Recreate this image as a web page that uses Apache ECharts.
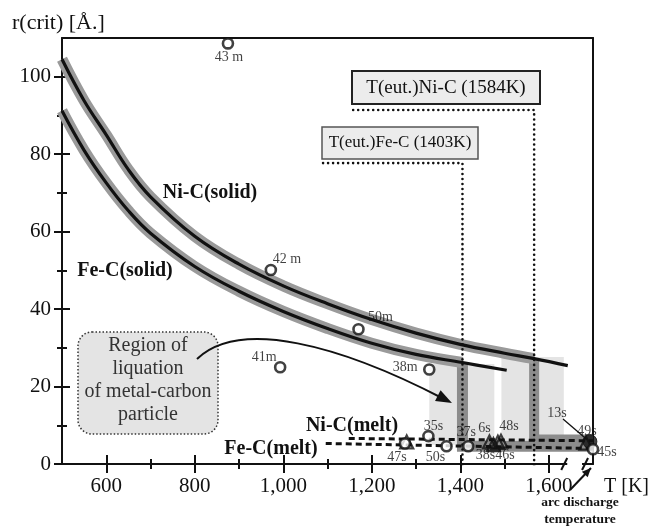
<!DOCTYPE html>
<html><head><meta charset="utf-8">
<script src="https://cdn.jsdelivr.net/npm/echarts@6/dist/echarts.min.js"></script>
<style>html,body{margin:0;padding:0;background:#fff}#c{width:652px;height:531px}</style>
</head><body><div id="c"></div>
<script>
// ---- axis ticks ----
const xTickLabels = [600, 800, 1000, 1200, 1400, 1600];
const xMinorTicks = [700, 900, 1100, 1300, 1500];
const yTickLabels = [0, 20, 40, 60, 80, 100];
const yMinorTicks = [10, 30, 50, 70, 90];

// ---- critical radius curves (solid phase) ----
const niSolidT = [500, 550, 600, 650, 700, 800, 900, 1000, 1100, 1200, 1300, 1400, 1500, 1567, 1643];
const niSolidR = [104.5, 93.8, 85.0, 76.0, 69.0, 58.8, 51.6, 46.0, 41.4, 37.3, 33.8, 30.9, 28.6, 27.2, 25.4];
const feSolidT = [500, 550, 600, 650, 700, 800, 900, 1000, 1100, 1200, 1300, 1405, 1505];
const feSolidR = [91.2, 81.0, 72.6, 65.4, 59.6, 51.0, 44.6, 39.4, 35.0, 31.2, 28.3, 26.2, 24.2];
const niBandEnd = 14;   // grey band drawn up to the Ni-C eutectic
const feBandEnd = 12;   // grey band drawn up to the Fe-C eutectic

// ---- melt lines ----
const niMeltT = [1148, 1700];
const niMeltR = [6.6, 6.0];
const feMeltT = [1096, 1700];
const feMeltR = [5.3, 4.0];

// ---- eutectic markers ----
const eutLabels = ['T(eut.)Fe-C (1403K)', 'T(eut.)Ni-C (1584K)'];
const eutLineT = [1405, 1567];
const eutLineTop = [77.7, 91.4];
const eutLineStartT = [1090, 1158];

// ---- liquation regions [T0, T1, R0, R1] ----
const liqT0 = [1330, 1493];
const liqT1 = [1477, 1634];
const liqR0 = [5.0, 6.0];
const liqR1 = [25.8, 27.6];

// ---- measured particles ----
const mNames = ['43 m', '42 m', '50m', '41m', '38m'];
const mT = [875, 972, 1170, 993, 1330];
const mR = [108.6, 50.1, 34.8, 25.0, 24.4];
const sCircleNames = ['47s', '35s', '50s', '37s', '45s'];
const sCircleT = [1275, 1328, 1369, 1418, 1700];
const sCircleR = [5.3, 7.2, 4.6, 4.6, 3.8];
const sTriNames = ['', '6s', '38s', '46s', '48s', '13s'];
const sTriT = [1279, 1466, 1475, 1485, 1492, 1684];
const sTriR = [5.7, 5.7, 5.0, 5.6, 5.9, 5.4];
const sFilledNames = ['49s'];
const sFilledT = [1693];
const sFilledR = [5.8];

const breakT0 = 1635, breakT1 = 1682;

const labelOffset = {
  '43 m': [1, 14], '42 m': [16, -11], '50m': [22, -12], '41m': [-16, -10], '38m': [-24, -2],
  '35s': [5, -10], '47s': [-8, 14], '50s': [-11, 11], '37s': [-2, -14],
  '6s': [-5, -14], '38s': [-8, 11], '46s': [7, 13], '48s': [8, -15],
  '13s': [-29, -30], '49s': [-3, -10], '45s': [14, 3]
};

const FONT = '"Liberation Serif","Times New Roman",serif';
const INK = '#111';
const zip = (a, b) => a.map((v, i) => [v, b[i]]);

function pts(names, T, R) {
  return names.map((n, i) => ({
    name: n, value: [T[i], R[i]],
    label: { show: !!n, offset: labelOffset[n] || [0, 0] }
  }));
}

const chart = echarts.init(document.getElementById('c'), null, { renderer: 'canvas' });

const tickStyle = { color: INK, width: 2 };
const baseX = { type: 'value', min: 500, max: 1700, position: 'bottom', gridIndex: 0,
  splitLine: { show: false }, axisLine: { show: false, onZero: false },
  axisLabel: { show: false }, axisTick: { show: false } };
const baseY = { type: 'value', min: 0, max: 110, position: 'left', gridIndex: 0,
  splitLine: { show: false }, axisLine: { show: false, onZero: false },
  axisLabel: { show: false }, axisTick: { show: false } };
const lblStyle = { fontFamily: FONT, fontSize: 21, color: INK };

const labelCommon = { position: 'inside', fontFamily: FONT, fontSize: 14, color: INK, formatter: '{b}' };
const curveStyle = { type: 'line', symbol: 'none', smooth: 0.4, silent: true };

const option = {
  animation: false,
  backgroundColor: '#fff',
  grid: { left: 62, right: 59, top: 38, bottom: 67, outerBoundsMode: 'none', containLabel: false },
  xAxis: [
    Object.assign({}, baseX, {
      axisLine: { show: true, onZero: false, lineStyle: { color: INK, width: 2 } },
      axisTick: { show: true, customValues: xTickLabels, length: 9, inside: false, lineStyle: tickStyle },
      axisLabel: Object.assign({ show: true, customValues: xTickLabels, margin: 12 }, lblStyle)
    }),
    Object.assign({}, baseX, { axisTick: { show: true, customValues: xTickLabels, length: 9, inside: true, lineStyle: tickStyle } }),
    Object.assign({}, baseX, { axisTick: { show: true, customValues: xMinorTicks, length: 5, inside: false, lineStyle: tickStyle } }),
    Object.assign({}, baseX, { axisTick: { show: true, customValues: xMinorTicks, length: 5, inside: true, lineStyle: tickStyle } }),
    Object.assign({}, baseX, { position: 'top', axisLine: { show: true, onZero: false, lineStyle: { color: INK, width: 2 } } })
  ],
  yAxis: [
    Object.assign({}, baseY, {
      axisLine: { show: true, onZero: false, lineStyle: { color: INK, width: 2 } },
      axisTick: { show: true, customValues: yTickLabels, length: 8, inside: false, lineStyle: tickStyle },
      axisLabel: Object.assign({ show: true, customValues: yTickLabels, margin: 11 }, lblStyle)
    }),
    Object.assign({}, baseY, { axisTick: { show: true, customValues: yTickLabels, length: 8, inside: true, lineStyle: tickStyle } }),
    Object.assign({}, baseY, { axisTick: { show: true, customValues: yMinorTicks, length: 5, inside: false, lineStyle: tickStyle } }),
    Object.assign({}, baseY, { axisTick: { show: true, customValues: yMinorTicks, length: 5, inside: true, lineStyle: tickStyle } }),
    Object.assign({}, baseY, { position: 'right', axisLine: { show: true, onZero: false, lineStyle: { color: INK, width: 2 } } })
  ],
  series: [
    { // liquation regions (light grey)
      type: 'custom', z: 1, silent: true,
      data: liqT0.map((t, i) => [t, liqT1[i], liqR0[i], liqR1[i]]),
      encode: { x: [0, 1], y: [2, 3] },
      renderItem: (params, api) => {
        const p0 = api.coord([api.value(0), api.value(3)]);
        const p1 = api.coord([api.value(1), api.value(2)]);
        return { type: 'rect', shape: { x: p0[0], y: p0[1], width: p1[0] - p0[0], height: p1[1] - p0[1] },
          style: { fill: '#e4e4e4' } };
      }
    },
    { type: 'line', z: 2, symbol: 'none', silent: true,
      data: [[eutLineT[1], niSolidR[niBandEnd - 1]], [eutLineT[1], niMeltR[1] + 0.3], [1700, niMeltR[1] + 0.3]],
      lineStyle: { color: '#8c8c8c', width: 10, join: 'miter', cap: 'butt' } },
    { type: 'line', z: 2, symbol: 'none', silent: true,
      data: [[eutLineT[0], feSolidR[feBandEnd - 1]], [eutLineT[0], 4.6], [1700, 4.6]],
      lineStyle: { color: '#8c8c8c', width: 11, join: 'miter', cap: 'butt' } },
    Object.assign({ z: 3, data: zip(niSolidT, niSolidR).slice(0, niBandEnd),
      lineStyle: { color: '#9a9a9a', width: 11, cap: 'butt' } }, curveStyle),
    Object.assign({ z: 3, data: zip(feSolidT, feSolidR).slice(0, feBandEnd),
      lineStyle: { color: '#9a9a9a', width: 11, cap: 'butt' } }, curveStyle),
    Object.assign({ z: 4, data: zip(niSolidT, niSolidR), lineStyle: { color: INK, width: 3.2 } }, curveStyle),
    Object.assign({ z: 4, data: zip(feSolidT, feSolidR), lineStyle: { color: INK, width: 3.2 } }, curveStyle),
    // eutectic dotted lines
    ...eutLineT.map((t, i) => ({
      type: 'line', z: 5, symbol: 'none', silent: true,
      data: [[eutLineStartT[i], eutLineTop[i]], [t, eutLineTop[i]], [t, -1.5]],
      lineStyle: { color: INK, width: 2.6, type: [0.01, 5], cap: 'round' }
    })),
    // melt lines
    { type: 'line', z: 5, symbol: 'none', silent: true, data: zip(niMeltT, niMeltR),
      lineStyle: { color: INK, width: 3, type: [6, 4] } },
    { type: 'line', z: 5, symbol: 'none', silent: true, data: zip(feMeltT, feMeltR),
      lineStyle: { color: INK, width: 3, type: [6, 4] } },
    // filled blob
    { type: 'scatter', z: 6, symbol: 'circle', symbolSize: 14,
      itemStyle: { color: INK, borderColor: INK, borderWidth: 1 },
      label: labelCommon, data: pts(sFilledNames, sFilledT, sFilledR) },
    // triangles
    { type: 'scatter', z: 7, symbol: 'triangle', symbolSize: 13,
      itemStyle: { color: 'rgba(255,255,255,0)', borderColor: INK, borderWidth: 2.2 },
      label: labelCommon, data: pts(sTriNames, sTriT, sTriR) },
    // circles
    { type: 'scatter', z: 8, symbol: 'circle', symbolSize: 10,
      itemStyle: { color: '#fff', borderColor: INK, borderWidth: 2.6 },
      label: labelCommon, data: pts(sCircleNames, sCircleT, sCircleR) },
    { type: 'scatter', z: 8, symbol: 'circle', symbolSize: 10,
      itemStyle: { color: '#fff', borderColor: INK, borderWidth: 2.6 },
      label: labelCommon, data: pts(mNames, mT, mR) }
  ]
};
chart.setOption(option);

// ---- annotations ----
const px = (t, r) => chart.convertToPixel({ xAxisIndex: 0, yAxisIndex: 0 }, [t, r]);
function arrowHead(tip, from, len, hw) {
  const dx = tip[0] - from[0], dy = tip[1] - from[1];
  const d = Math.hypot(dx, dy); const ux = dx / d, uy = dy / d;
  const bx = tip[0] - ux * len, by = tip[1] - uy * len;
  return [tip, [bx - uy * hw, by + ux * hw], [bx + uy * hw, by - ux * hw]];
}
const axisY = px(500, 0)[1];
const b0 = px(breakT0, 0)[0], b1 = px(breakT1, 0)[0];

const textStyle = (t, x, y, size, extra) => ({
  type: 'text', x: x, y: y, z: 50,
  style: Object.assign({ text: t, fontFamily: FONT, fontSize: size, fill: INK, align: 'center', verticalAlign: 'middle' }, extra || {})
});

const regArrowEnd = [452, 403], regArrowCp2 = [340, 345];
const blob = px(sFilledT[0], sFilledR[0]);
const arcTip = [px(1700, 0)[0] - 2, axisY + 4];
const arcFrom = [570, 490];

const graphic = [
  // axis break
  { type: 'rect', z: 40, shape: { x: b0 + 3, y: axisY - 3, width: b1 - b0 - 6, height: 6 }, style: { fill: '#fff' } },
  { type: 'line', z: 41, shape: { x1: b0 - 3, y1: axisY + 6, x2: b0 + 3, y2: axisY - 6 }, style: { stroke: INK, lineWidth: 2 } },
  { type: 'line', z: 41, shape: { x1: b1 - 3, y1: axisY + 6, x2: b1 + 3, y2: axisY - 6 }, style: { stroke: INK, lineWidth: 2 } },
  // titles
  textStyle('r(crit) [Å.]', 12, 23, 22, { align: 'left' }),
  textStyle('T [K]', 604, 487, 20, { align: 'left' }),
  textStyle('arc discharge', 580, 503, 13.5, { fontWeight: 'bold' }),
  textStyle('temperature', 580, 520, 13.5, { fontWeight: 'bold' }),
  { type: 'line', z: 41, shape: { x1: arcFrom[0], y1: arcFrom[1], x2: arcTip[0], y2: arcTip[1] }, style: { stroke: INK, lineWidth: 2 } },
  { type: 'polygon', z: 41, shape: { points: arrowHead(arcTip, arcFrom, 9, 4) }, style: { fill: INK } },
  // curve labels
  textStyle('Ni-C(solid)', 210, 193, 20, { fontWeight: 'bold' }),
  textStyle('Fe-C(solid)', 125, 271, 20, { fontWeight: 'bold' }),
  textStyle('Ni-C(melt)', 352, 426, 20, { fontWeight: 'bold' }),
  textStyle('Fe-C(melt)', 271, 449, 20, { fontWeight: 'bold' }),
  // eutectic boxes
  { type: 'rect', z: 45, shape: { x: 352, y: 71, width: 188, height: 33 }, style: { fill: '#ececec', stroke: '#222', lineWidth: 2 } },
  textStyle(eutLabels[1], 446, 88, 19),
  { type: 'rect', z: 45, shape: { x: 322, y: 127, width: 156, height: 32 }, style: { fill: '#ececec', stroke: '#555', lineWidth: 1.5 } },
  textStyle(eutLabels[0], 400, 143, 17),
  // region of liquation box
  { type: 'rect', z: 45, shape: { x: 78, y: 332, width: 140, height: 102, r: 14 },
    style: { fill: '#e4e4e4', stroke: '#333', lineWidth: 1.5, lineDash: [1.5, 2] } },
  textStyle('Region of', 148, 346, 20, { fill: '#333' }),
  textStyle('liquation', 148, 369, 20, { fill: '#333' }),
  textStyle('of metal-carbon', 148, 392, 20, { fill: '#333' }),
  textStyle('particle', 148, 415, 20, { fill: '#333' }),
  { type: 'bezierCurve', z: 48, shape: { x1: 197, y1: 359, cpx1: 240, cpy1: 318, cpx2: regArrowCp2[0], cpy2: regArrowCp2[1], x2: regArrowEnd[0] - 8, y2: regArrowEnd[1] - 4 },
    style: { stroke: INK, lineWidth: 2, fill: null } },
  { type: 'polygon', z: 48, shape: { points: arrowHead(regArrowEnd, regArrowCp2, 16, 6) }, style: { fill: INK } },
  // 13s leader
  { type: 'line', z: 41, shape: { x1: 563, y1: 419, x2: blob[0] - 3, y2: blob[1] - 2 }, style: { stroke: INK, lineWidth: 1.3 } }
];
chart.setOption({ graphic: graphic });
</script>
</body></html>
